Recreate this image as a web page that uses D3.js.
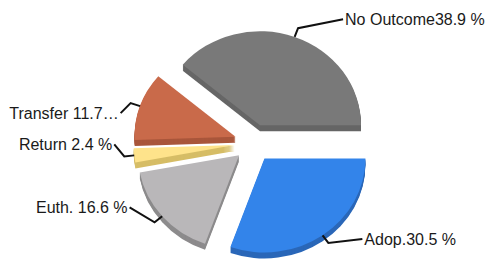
<!DOCTYPE html>
<html>
<head>
<meta charset="utf-8">
<script src="https://cdn.jsdelivr.net/npm/d3@7"></script>
<style>
  body { margin: 0; background: #fff; }
  text { font-family: "Liberation Sans", Arial, sans-serif; font-size: 16px; fill: #1a1a1a; }
</style>
</head>
<body>
<svg id="pieChart"></svg>
<script>
// data
const categories = ["Adop.", "Euth.", "Return", "Transfer", "No Outcome"];
const shares = [30.5, 16.6, 2.4, 11.7, 38.9];
const labelTexts = ["Adop.30.5 %", "Euth. 16.6 %", "Return 2.4 %", "Transfer 11.7\u2026", "No Outcome38.9 %"];

const topColors = ["#3384ea", "#b9b7b9", "#fee38b", "#c96a4a", "#797979"];
const sideColors = ["#2a67b8", "#8c8b8c", "#d6bd66", "#a9563b", "#666666"];

// where each label sits, relative to the elbow of its leader line
const labelDx = [36, -27, -12, -12, 47];
const labelDy = [-4, -15, -12, 10, -9];

function getConfig(){
    let width = 487;
    let height = 260;
    let center = {x: 253.5, y: 143};
    let radius = 101;
    let squash = 0.93;      // tilt of the disc
    let explode = 19;
    let depth = 6;
    let container = d3.select('#pieChart')
        .attr('width', width)
        .attr('height', height)
    return {width, height, center, radius, squash, explode, depth, container}
}

function drawPie(){
    let config = getConfig();
    let {center, radius, squash, explode, depth, container} = config;

    let pie = d3.pie()
        .sort(null)
        .value(d => d)
        .startAngle(Math.PI / 2)
        .endAngle(Math.PI / 2 + Math.PI * 2);

    let arcs = pie(shares).map((a, i) => {
        let mid = (a.startAngle + a.endAngle) / 2;
        return Object.assign(a, {
            i: i,
            mid: mid,
            ox: center.x + explode * Math.sin(mid),
            oy: center.y - explode * Math.cos(mid)
        });
    });

    let arc = d3.arc().innerRadius(0).outerRadius(radius);

    // back slices first
    let order = arcs.slice().sort((a, b) => d3.ascending(-Math.cos(a.mid), -Math.cos(b.mid)));

    let slices = container.selectAll('.slice')
        .data(order)
        .enter().append('g')
        .attr('class', 'slice')
        .attr('transform', d => `translate(${d.ox},${d.oy})`);

    slices.each(function(d){
        let g = d3.select(this);
        for (let k = depth; k >= 1; k--) {
            g.append('path')
                .attr('d', arc(d))
                .attr('transform', `translate(0,${k}) scale(1,${squash})`)
                .attr('fill', sideColors[d.i]);
        }
        g.append('path')
            .attr('d', arc(d))
            .attr('transform', `scale(1,${squash})`)
            .attr('fill', topColors[d.i]);
    });

    // leader lines + labels
    let labels = container.append('g');
    arcs.forEach(d => {
        let sx = Math.sin(d.mid), sy = -Math.cos(d.mid) * squash;
        let p0 = [d.ox + sx * radius, d.oy + sy * radius];
        let p1 = [d.ox + sx * (radius + 10), d.oy + sy * (radius + 10)];
        let right = labelDx[d.i] > 0;
        let lx = p1[0] + labelDx[d.i];
        let ly = p1[1] + labelDy[d.i];
        let p2 = [lx + (right ? -2 : 2), ly];

        labels.append('path')
            .attr('d', d3.line()([p0, p1, p2]))
            .attr('fill', 'none')
            .attr('stroke', '#111')
            .attr('stroke-width', 2);

        labels.append('text')
            .attr('x', lx)
            .attr('y', ly)
            .attr('dy', '0.35em')
            .attr('text-anchor', right ? 'start' : 'end')
            .text(labelTexts[d.i]);
    });
}

drawPie();
</script>
</body>
</html>
